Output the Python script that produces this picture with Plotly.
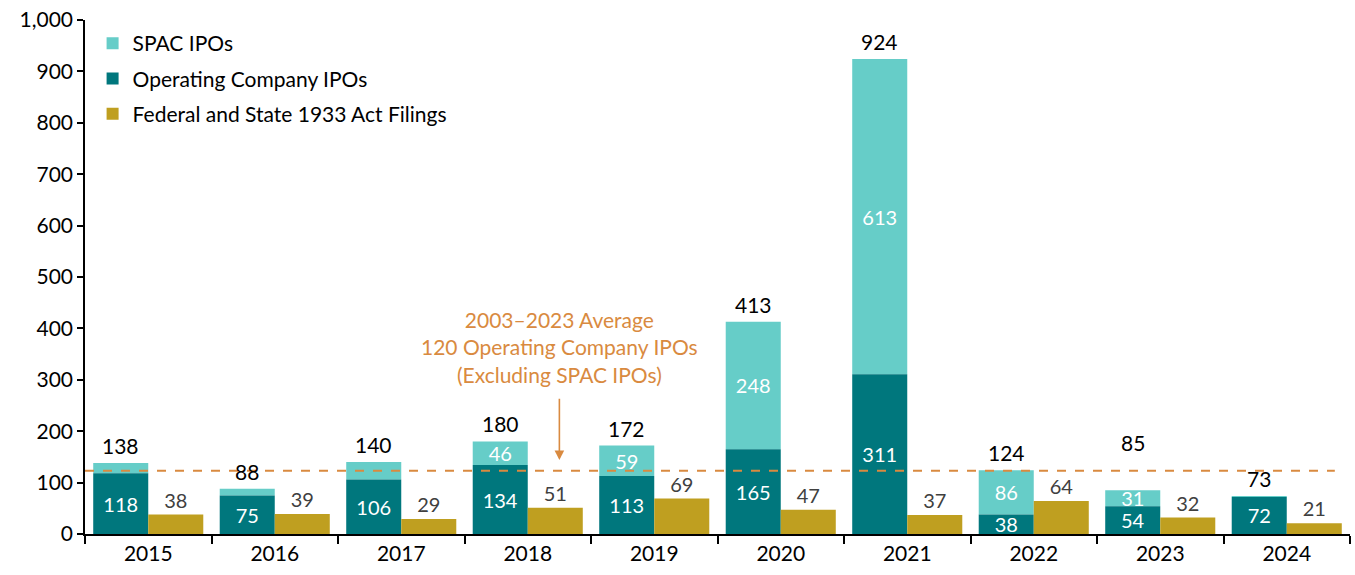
import plotly.graph_objects as go

years = ["2015", "2016", "2017", "2018", "2019", "2020", "2021", "2022", "2023", "2024"]
op_ipos = [118, 75, 106, 134, 113, 165, 311, 38, 54, 72]
spac_ipos = [20, 13, 34, 46, 59, 248, 613, 86, 31, 1]
filings = [38, 39, 29, 51, 69, 47, 37, 64, 32, 21]
spac_labels_shown = [False, False, False, True, True, True, True, True, True, False]
average_line = 123
avg_text = "2003–2023 Average<br>120 Operating Company IPOs<br>(Excluding SPAC IPOs)"

totals = [a + b for a, b in zip(op_ipos, spac_ipos)]

C_SPAC = "#66CDC8"
C_OP = "#00777D"
C_FIL = "#BF9F20"
C_AVG = "#D98A40"
FONT = "Lato"
FS = 21
FS_IN = 20
bargap = 0.13

fig = go.Figure()
fig.add_trace(go.Bar(
    name="SPAC IPOs", x=years, y=spac_ipos, base=op_ipos, offsetgroup="a",
    marker=dict(color=C_SPAC, line=dict(width=0)),
    text=[str(v) if s else "" for v, s in zip(spac_ipos, spac_labels_shown)],
    textposition="inside", insidetextanchor="middle", textangle=0,
    textfont=dict(color="white", size=FS_IN, family=FONT),
    legendgroup="g1", hoverinfo="skip",
))
fig.add_trace(go.Bar(
    name="Operating Company IPOs", x=years, y=op_ipos, offsetgroup="a",
    marker=dict(color=C_OP, line=dict(width=0)),
    text=[str(v) for v in op_ipos],
    textposition="inside", insidetextanchor="middle", textangle=0,
    textfont=dict(color="white", size=FS_IN, family=FONT),
    legendgroup="g2", hoverinfo="skip",
))
fig.add_trace(go.Bar(
    name="Federal and State 1933 Act Filings", x=years, y=filings, offsetgroup="b",
    marker=dict(color=C_FIL, line=dict(width=0)),
    text=[str(v) for v in filings],
    textposition="outside", cliponaxis=False, textangle=0,
    textfont=dict(color="#404040", size=FS, family=FONT),
    legendgroup="g3", hoverinfo="skip",
))

w = (1 - bargap) / 2
annotations = []
for i, t in enumerate(totals):
    yshift = 3
    if years[i] == "2023":
        yshift = 33
    annotations.append(dict(
        x=i - w / 2, y=t, xref="x", yref="y", text=str(t), showarrow=False,
        yanchor="bottom", yshift=yshift,
        font=dict(size=FS, color="black", family=FONT),
    ))

annotations.append(dict(
    x=3.25, y=average_line + 241, xref="x", yref="y", text=avg_text, showarrow=False,
    yanchor="middle", font=dict(size=FS, color=C_AVG, family=FONT),
))
annotations.append(dict(
    x=3.25, y=average_line + 21, ax=3.25, ay=average_line + 143,
    xref="x", yref="y", axref="x", ayref="y", text="", showarrow=True,
    arrowhead=2, arrowsize=1.2, arrowwidth=1.6, arrowcolor=C_AVG,
))

fig.add_shape(type="line", xref="paper", yref="y", x0=0, x1=0.988,
              y0=average_line, y1=average_line,
              line=dict(color=C_AVG, width=2, dash="dash"))

fig.update_layout(
    width=1355, height=575,
    margin=dict(l=85, r=5, t=20, b=41),
    paper_bgcolor="white", plot_bgcolor="white",
    barmode="group", bargap=bargap, bargroupgap=0,
    font=dict(family=FONT, size=FS, color="black"),
    uniformtext=dict(minsize=FS_IN, mode="show"),
    showlegend=True,
    legend=dict(x=0.006, y=0.994, xanchor="left", yanchor="top",
                traceorder="grouped", tracegroupgap=5,
                font=dict(size=FS, family=FONT, color="black"),
                bgcolor="rgba(0,0,0,0)"),
    annotations=annotations,
)
fig.update_xaxes(type="category", showline=True, linecolor="black", linewidth=1.5,
                 ticks="outside", tickson="boundaries", ticklen=8, tickcolor="black",
                 tickwidth=1.5, showgrid=False, automargin=False,
                 tickfont=dict(size=FS, family=FONT))
fig.update_yaxes(range=[0, 1000], dtick=100, tickformat=",", showline=True,
                 linecolor="black", linewidth=1.5, ticks="outside", ticklen=6,
                 tickcolor="black", tickwidth=1.5, showgrid=False, zeroline=False,
                 automargin=False, ticklabeloverflow="allow",
                 tickfont=dict(size=FS, family=FONT))

fig.write_html("out.html", config={"displayModeBar": False},
               post_script="document.body.style.margin='0';")
